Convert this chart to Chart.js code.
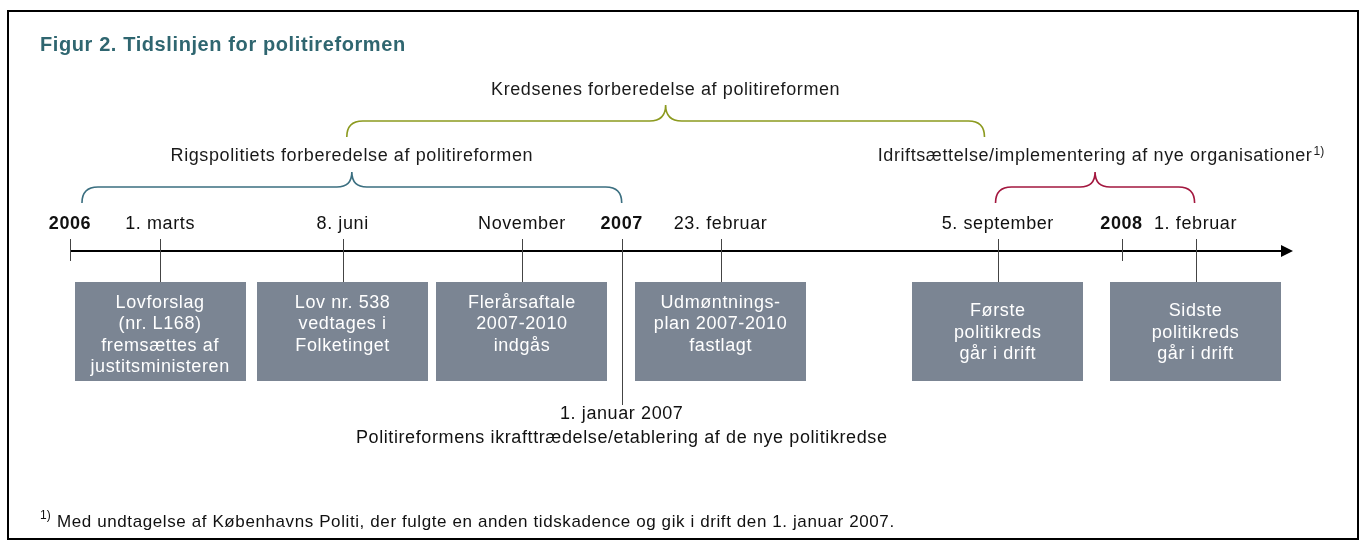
<!DOCTYPE html>
<html lang="da">
<head>
<meta charset="utf-8">
<title>Figur 2. Tidslinjen for politireformen</title>
<script src="https://cdn.jsdelivr.net/npm/chart.js@4.4.0/dist/chart.umd.min.js"></script>
<style>
    html, body { margin: 0; padding: 0; background: #fff; }
    .wrap { position: relative; width: 1362px; height: 549px; }
</style>
</head>
<body>
<div class="wrap"><canvas id="timeline"></canvas></div>
<script>
// Tidslinjens begivenheder (skematisk position på tidsaksen, måneder fra jan. 2006)
const eventLabels = ['2006', '1. marts', '8. juni', 'November', '2007', '23. februar', '5. september', '2008', '1. februar'];
const eventPos = [0, 1.96, 5.93, 9.83, 12, 14.15, 20.18, 22.87, 24.48];
const yearMarks = ['2006', '2007', '2008'];

// Kasser under aksen
const boxEvents = ['1. marts', '8. juni', 'November', '23. februar', '5. september', '1. februar'];
const boxTexts = [
    ['Lovforslag', '(nr. L168)', 'fremsættes af', 'justitsministeren'],
    ['Lov nr. 538', 'vedtages i', 'Folketinget'],
    ['Flerårsaftale', '2007-2010', 'indgås'],
    ['Udmøntnings-', 'plan 2007-2010', 'fastlagt'],
    ['Første', 'politikreds', 'går i drift'],
    ['Sidste', 'politikreds', 'går i drift']
];

// Perioder (klammer)
const phaseLabels = [
    'Kredsenes forberedelse af politireformen',
    'Rigspolitiets forberedelse af politireformen',
    'Idriftsættelse/implementering af nye organisationer'
];
const phaseStart = [6.02, 0.26, 20.13];
const phaseEnd = [19.89, 12, 24.46];

const axisMax = 26.6;

const title = 'Figur 2. Tidslinjen for politireformen';
const note2007 = ['1. januar 2007', 'Politireformens ikrafttrædelse/etablering af de nye politikredse'];
const footnote = 'Med undtagelse af Københavns Politi, der fulgte en anden tidskadence og gik i drift den 1. januar 2007.';

const FONT = '"Liberation Sans", Arial, sans-serif';

function setFont(ctx, spec, spacing) {
    ctx.font = spec + ' ' + FONT;
    ctx.letterSpacing = spacing + 'px';
}

function drawBrace(ctx, x1, x2, yEnd, yLine, yTip, color) {
    const r = yEnd - yLine;
    const mid = (x1 + x2) / 2;
    const t = yLine - yTip;
    ctx.save();
    ctx.strokeStyle = color;
    ctx.lineWidth = 1.6;
    ctx.beginPath();
    ctx.moveTo(x1, yEnd);
    ctx.quadraticCurveTo(x1, yLine, x1 + r, yLine);
    ctx.lineTo(mid - t, yLine);
    ctx.quadraticCurveTo(mid, yLine, mid, yTip);
    ctx.quadraticCurveTo(mid, yLine, mid + t, yLine);
    ctx.lineTo(x2 - r, yLine);
    ctx.quadraticCurveTo(x2, yLine, x2, yEnd);
    ctx.stroke();
    ctx.restore();
}

const timelinePlugin = {
    id: 'timeline',
    afterDraw(chart) {
        const ctx = chart.ctx;
        const xs = chart.scales.x;
        const px = v => xs.getPixelForValue(v);
        const axisY = 251;

        ctx.save();
        // ramme
        ctx.strokeStyle = '#000';
        ctx.lineWidth = 2;
        ctx.strokeRect(8, 11, 1350, 528);

        // titel
        ctx.fillStyle = '#2f6670';
        setFont(ctx, 'bold 20px', 0.6);
        ctx.textBaseline = 'middle';
        ctx.textAlign = 'left';
        ctx.fillText(title, 40, 45);

        // klammer
        const braceColors = ['#8c9a1f', '#3b6f80', '#a3173f'];
        const braceY = [[137, 121, 105], [203, 187, 172], [203, 187, 172]];
        phaseLabels.forEach((lab, i) => {
            const a = px(phaseStart[i]), b = px(phaseEnd[i]);
            drawBrace(ctx, a, b, braceY[i][0], braceY[i][1], braceY[i][2], braceColors[i]);
        });
        ctx.fillStyle = '#1a1a1a';
        setFont(ctx, '18px', 0.6);
        ctx.textAlign = 'center';
        ctx.fillText(phaseLabels[0], (px(phaseStart[0]) + px(phaseEnd[0])) / 2, 90);
        ctx.fillText(phaseLabels[1], (px(phaseStart[1]) + px(phaseEnd[1])) / 2, 156);
        const c3 = (px(phaseStart[2]) + px(phaseEnd[2])) / 2;
        ctx.fillText(phaseLabels[2], c3, 156);
        const w3 = ctx.measureText(phaseLabels[2]).width;
        setFont(ctx, '12px', 0);
        ctx.textAlign = 'left';
        ctx.fillText('1)', c3 + w3 / 2 + 1, 152);

        // akse med pil
        ctx.strokeStyle = '#000';
        ctx.lineWidth = 2;
        ctx.beginPath();
        ctx.moveTo(px(0), axisY);
        ctx.lineTo(px(axisMax) - 8, axisY);
        ctx.stroke();
        ctx.fillStyle = '#000';
        ctx.beginPath();
        ctx.moveTo(px(axisMax), axisY);
        ctx.lineTo(px(axisMax) - 12, axisY - 6);
        ctx.lineTo(px(axisMax) - 12, axisY + 6);
        ctx.closePath();
        ctx.fill();

        // tick-mærker og etiketter
        eventLabels.forEach((lab, i) => {
            const x = Math.round(px(eventPos[i])) + 0.5;
            const isYear = yearMarks.includes(lab);
            let y2 = 282;
            if (isYear) y2 = lab === '2007' ? 405 : 261;
            ctx.strokeStyle = '#444';
            ctx.lineWidth = 1;
            ctx.beginPath();
            ctx.moveTo(x, 239);
            ctx.lineTo(x, y2);
            ctx.stroke();

            ctx.fillStyle = '#111';
            setFont(ctx, (isYear ? 'bold ' : '') + '18px', 0.6);
            ctx.textAlign = 'center';
            ctx.fillText(lab, px(eventPos[i]), 224);
        });

        // kasser
        boxEvents.forEach((ev, i) => {
            const cx = px(eventPos[eventLabels.indexOf(ev)]);
            const w = 171, top = 282, h = 99;
            ctx.fillStyle = '#7b8593';
            ctx.fillRect(Math.round(cx - w / 2), top, w, h);
            const lines = boxTexts[i];
            const lh = 21.3;
            const y0 = i < 4 ? 303 : 311.5;
            ctx.fillStyle = '#fff';
            setFont(ctx, '18px', 0.6);
            ctx.textAlign = 'center';
            lines.forEach((t, k) => ctx.fillText(t, cx, y0 + k * lh));
        });

        // 1. januar 2007
        const x07 = px(eventPos[eventLabels.indexOf('2007')]);
        ctx.fillStyle = '#111';
        setFont(ctx, '18px', 0.6);
        ctx.textAlign = 'center';
        ctx.fillText(note2007[0], x07, 414);
        ctx.fillText(note2007[1], x07, 438);

        // fodnote
        ctx.textAlign = 'left';
        setFont(ctx, '17px', 0.6);
        ctx.fillText(footnote, 57, 522);
        setFont(ctx, '12px', 0);
        ctx.fillText('1)', 40, 516);
        ctx.restore();
    }
};

new Chart(document.getElementById('timeline'), {
    type: 'scatter',
    data: {
        datasets: [{
            label: 'Begivenheder',
            data: eventPos.map(p => ({ x: p, y: 0 })),
            pointRadius: 0
        }]
    },
    options: {
        responsive: true,
        maintainAspectRatio: false,
        animation: false,
        layout: { padding: { left: 70, right: 69, top: 0, bottom: 0 } },
        plugins: { legend: { display: false }, tooltip: { enabled: false } },
        scales: {
            x: { type: 'linear', min: 0, max: axisMax, display: false },
            y: { min: -1, max: 1, display: false }
        }
    },
    plugins: [timelinePlugin]
});
</script>
</body>
</html>
